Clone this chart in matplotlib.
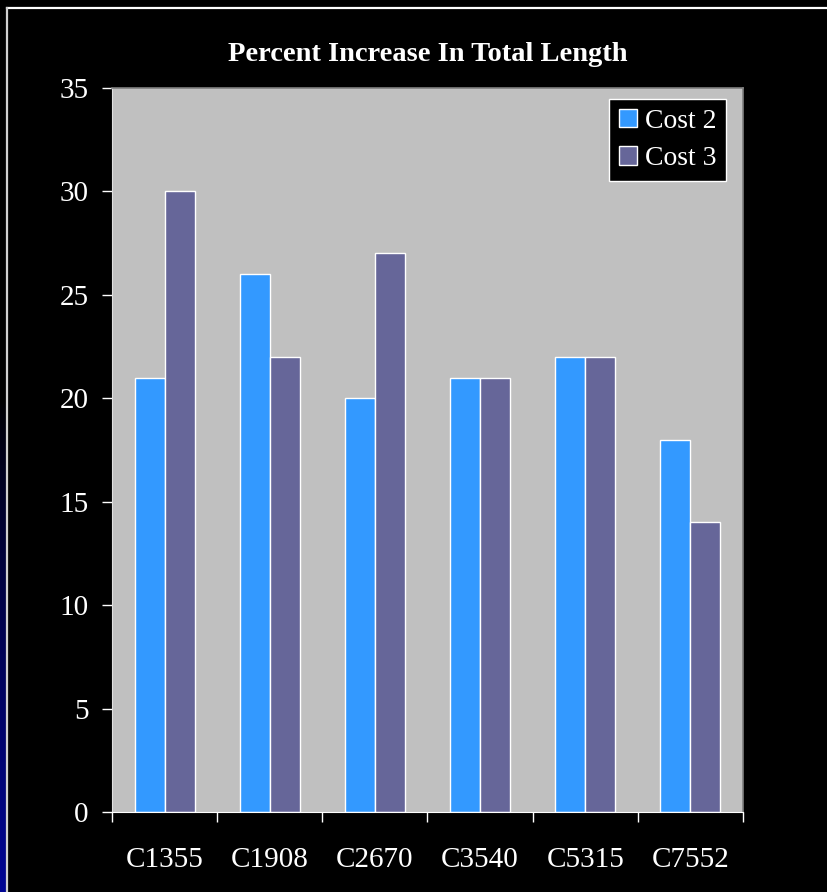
import matplotlib.pyplot as plt
import numpy as np
from matplotlib.lines import Line2D

# circuits and percent increase for each cost function
circuits = ["C1355", "C1908", "C2670", "C3540", "C5315", "C7552"]
cost2 = [21, 26, 20, 21, 22, 18]
cost3 = [30, 22, 27, 21, 22, 14]
yticks = [0, 5, 10, 15, 20, 25, 30, 35]

W, H = 828, 892
plt.rcParams['font.family'] = ['Liberation Serif', 'DejaVu Serif']

fig = plt.figure(figsize=(W / 100, H / 100), dpi=100, facecolor='black')

# navy strip of the slide background showing on the far left
strip = fig.add_axes([0, 0, 7 / W, 1])
strip.axis('off')
g = np.linspace(0, 1, 300)
g = np.clip((g - 0.45) / 0.55, 0, 1) ** 0.8
img = np.zeros((300, 1, 3))
img[:, 0, 2] = g * 0.58
img[:, 0, 1] = g * 0.02
strip.imshow(img, aspect='auto', extent=[0, 1, 0, 1])
strip.set_xlim(0, 1)
strip.set_ylim(0, 1)

# white frame lines at top and left
fig.add_artist(Line2D([7 / W, 1], [1 - 7.5 / H, 1 - 7.5 / H], color='white', lw=1.6,
                      transform=fig.transFigure))
fig.add_artist(Line2D([7.5 / W, 7.5 / W], [0, 1 - 7.5 / H], color='#d0d0d0', lw=1.6,
                      transform=fig.transFigure))

ax = fig.add_axes([112 / W, 80 / H, (743 - 112) / W, (812 - 88) / H])
ax.set_facecolor('#c0c0c0')

x = np.arange(len(circuits))
w = 1 / 3.5
ax.bar(x - w / 2, cost2, w, color='#3399ff', edgecolor='white', linewidth=1, label='Cost 2')
ax.bar(x + w / 2, cost3, w, color='#666699', edgecolor='white', linewidth=1, label='Cost 3')

ax.set_xlim(-0.5, len(circuits) - 0.5)
ax.set_ylim(0, 35)
ax.set_yticks(yticks)
ax.set_xticks(x)
ax.set_xticklabels(circuits)
ax.set_xticks(np.arange(-0.5, len(circuits)), minor=True)

ax.tick_params(axis='y', colors='white', labelsize=21, length=7, width=1, pad=10)
ax.tick_params(axis='x', which='major', colors='white', labelsize=21, length=0, pad=25)
ax.tick_params(axis='x', which='minor', colors='white', length=7, width=1)

for s in ['top', 'right']:
    ax.spines[s].set_color('#808080')
    ax.spines[s].set_linewidth(1.2)
ax.spines['left'].set_color('#e0e0e0')
ax.spines['bottom'].set_color('white')

fig.text(427.5 / W, 1 - 61 / H, "Percent Increase In Total Length", color='white',
         fontsize=20.5, fontweight='bold', ha='center', va='baseline')

leg = ax.legend(loc='upper left', bbox_to_anchor=(609 / W, 1 - 99 / H),
                bbox_transform=fig.transFigure, fontsize=20, frameon=True,
                fancybox=False, borderaxespad=0, borderpad=0.35, labelspacing=0.45,
                handlelength=0.65, handleheight=0.65, handletextpad=0.3)
leg.get_frame().set_facecolor('black')
leg.get_frame().set_edgecolor('white')
leg.get_frame().set_linewidth(1)
leg.get_frame().set_alpha(1)
for t in leg.get_texts():
    t.set_color('white')

fig.savefig('out.png', dpi=100, facecolor='black')
